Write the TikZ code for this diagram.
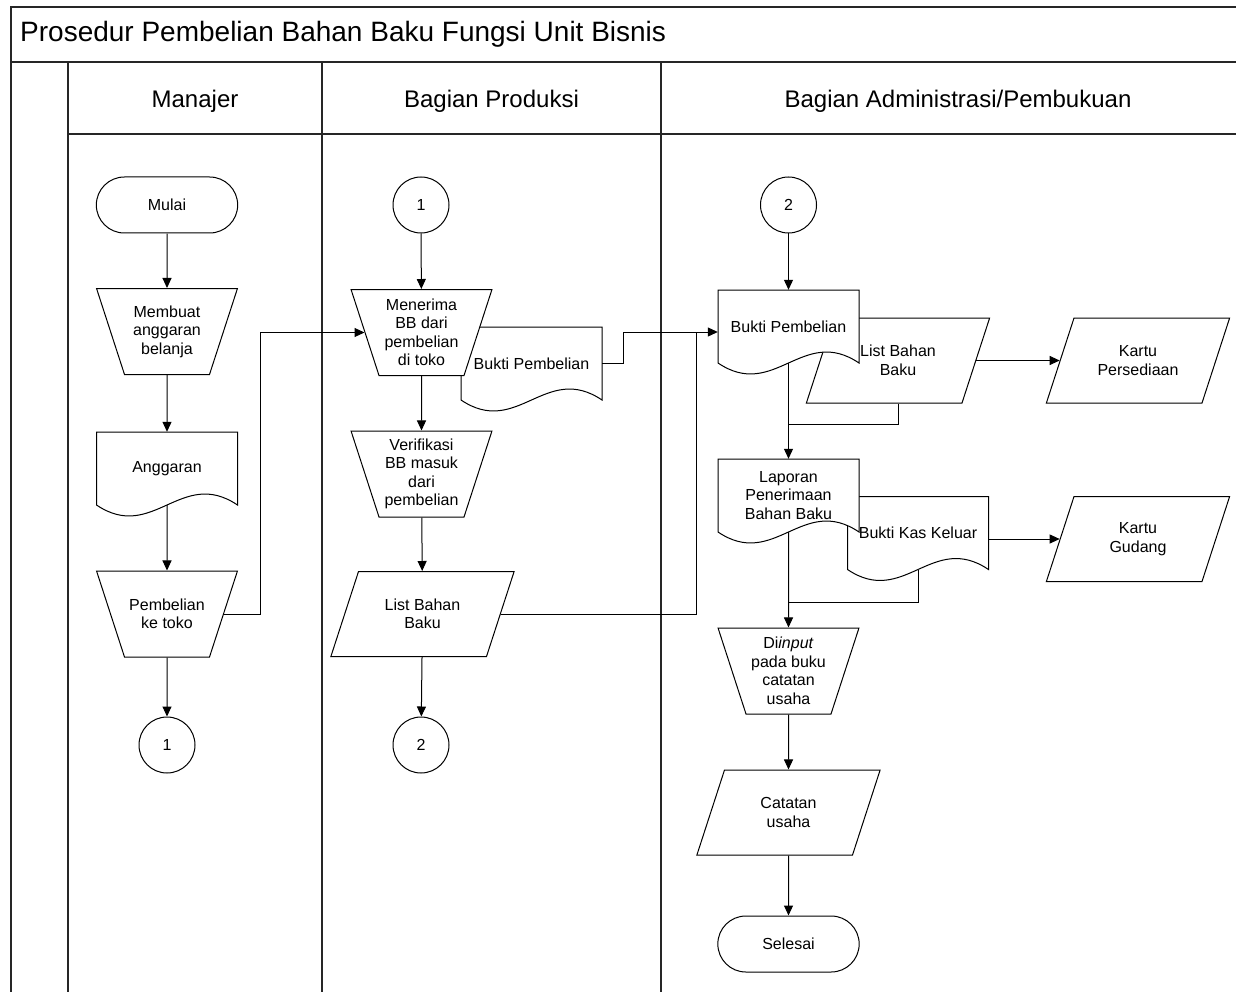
\documentclass[tikz,border=0pt]{standalone}
\usepackage{fontspec}
\setmainfont{Liberation Sans}
\usepackage{tikz}
\usetikzlibrary{calc,arrows.meta,shapes.geometric,shapes.misc}
\tikzset{
  ln/.style={draw,line width=1pt,black},
  ar/.style={ln,-{Triangle[length=10pt,width=9pt]}},
  fr/.style={line width=1.5pt,black!85},
  txt/.style={font=\fontsize{16}{18.5}\selectfont},
  term/.style={txt,align=center,ln,rounded rectangle,minimum width=148pt,minimum height=56pt,fill=white},
  manop/.style={txt,ln,trapezium,shape border rotate=180,trapezium angle=72,inner sep=3pt,fill=white,
    execute at begin node={\begin{minipage}[c][80pt][c]{79pt}\centering},
    execute at end node={\end{minipage}}},
  para/.style={txt,ln,trapezium,trapezium left angle=72,trapezium right angle=108,inner sep=3pt,fill=white,
    execute at begin node={\begin{minipage}[c][79pt][c]{122pt}\centering},
    execute at end node={\end{minipage}}},
  con/.style={txt,ln,circle,minimum size=56pt,inner sep=0pt,fill=white},
  dtxt/.style={txt,align=center,minimum width=141pt,minimum height=73pt,inner sep=0pt},
  hd/.style={font=\fontsize{24}{28}\selectfont}
}
% dokumen: nama, x, y, teks
\newcommand\dok[4]{%
  \begin{scope}[shift={(#2,#3)}]
    \draw[ln,fill=white] (-70.5,-36.5) -- (70.5,-36.5) -- (70.5,36.5)
      .. controls (14.1,-1.5) and (-14.1,74.5) .. (-70.5,36.5) -- cycle;
  \end{scope}
  \node[dtxt] (#1) at (#2,#3) {#4};}

\begin{document}
\begin{tikzpicture}[x=1pt,y=-1pt]
\useasboundingbox (0,0) rectangle (1236,992);
\clip (0,0) rectangle (1236,992);
% bingkai
\draw[fr] (11,1010) -- (11,7) -- (1260,7);
\draw[fr] (11,62) -- (1260,62);
\draw[fr] (68,62) -- (68,1010);
\draw[fr] (68,134) -- (1260,134);
\foreach \x in {322,661}{\draw[fr] (\x,62) -- (\x,1010);}
\node[anchor=west,inner sep=0pt,font=\fontsize{28}{32}\selectfont] (judul) at (20,34) {Prosedur Pembelian Bahan Baku Fungsi Unit Bisnis};
\node[hd] (h1) at (195,101) {Manajer};
\node[hd] (h2) at (491.5,101) {Bagian Produksi};
\node[hd] (h3) at (958,101) {Bagian Administrasi/Pembukuan};

% manajer
\node[term] (mulai) at (167,205) {Mulai};
\node[manop] (buat) at (167,331.5) {Membuat\\anggaran\\belanja};
\dok{angg}{167}{468.5}{Anggaran}
\node[manop] (beli) at (167,614) {Pembelian\\ke toko};
\node[con] (c1a) at (167,745) {1};

% bagian produksi
\node[con] (c1b) at (421,205) {1};
\dok{bp1}{531.5}{363.5}{Bukti Pembelian}
\node[manop] (terima) at (421.5,332.5) {Menerima\\BB dari\\pembelian\\di toko};
\node[manop] (verif) at (421.5,474) {Verifikasi\\BB masuk\\dari\\pembelian};
\node[para] (lb1) at (422.5,614) {List Bahan\\Baku};
\node[con] (c2a) at (421,745) {2};

% bagian administrasi
\node[con] (c2b) at (788.5,205) {2};
\node[para] (lb2) at (898,360.5) {List Bahan\\Baku};
\dok{bp2}{788.5}{326.5}{Bukti Pembelian}
\node[para] (kp) at (1138,360.5) {Kartu\\Persediaan};
\dok{bkk}{918}{533}{Bukti Kas Keluar}
\dok{lap}{788.5}{495.5}{Laporan\\Penerimaan\\Bahan Baku}
\node[para] (kg) at (1138,539) {Kartu\\Gudang};
\node[manop] (input) at (788.5,671) {Di\textit{input}\\pada buku\\catatan\\usaha};
\node[para] (catat) at (788.5,812.5) {Catatan\\usaha};
\node[term] (selesai) at (788.5,944) {Selesai};

\coordinate (m2) at ([yshift=-5.5pt]bp2.west);
\coordinate (j1) at ($(m2)+(-21,0)$);
\coordinate (j2) at (788.5,424);
\coordinate (j3) at (788.5,602);

% alur
\draw[ar] (mulai) -- (buat);
\draw[ar] (buat) -- (angg);
\draw[ar] (angg) -- (beli);
\draw[ar] (beli) -- (c1a);
\draw[ar] (beli.east) -- ++(36,0) |- (terima.west);
\draw[ar] (c1b) -- (terima);
\draw[ar] (terima) -- (verif);
\draw[ar] (verif) -- (lb1);
\draw[ar] (lb1) -- (c2a);
\draw[ar] (bp1.east) -- ++(21,0) |- (m2);
\draw[ln] (lb1.east) -| (j1);
\draw[ar] (c2b) -- (bp2);
\draw[ar] (bp2) -- (lap);
\draw[ln] (lb2.south) |- (j2);
\draw[ar] (lb2.east) -- (kp.west);
\draw[ar] (kg.west -| bkk.east) -- (kg.west);
\draw[ln] (bkk.south) |- (j3);
\draw[ar] (lap) -- (input);
\draw[ar] (input) -- (catat);
\draw[ar] (catat) -- (selesai);
\end{tikzpicture}
\end{document}
